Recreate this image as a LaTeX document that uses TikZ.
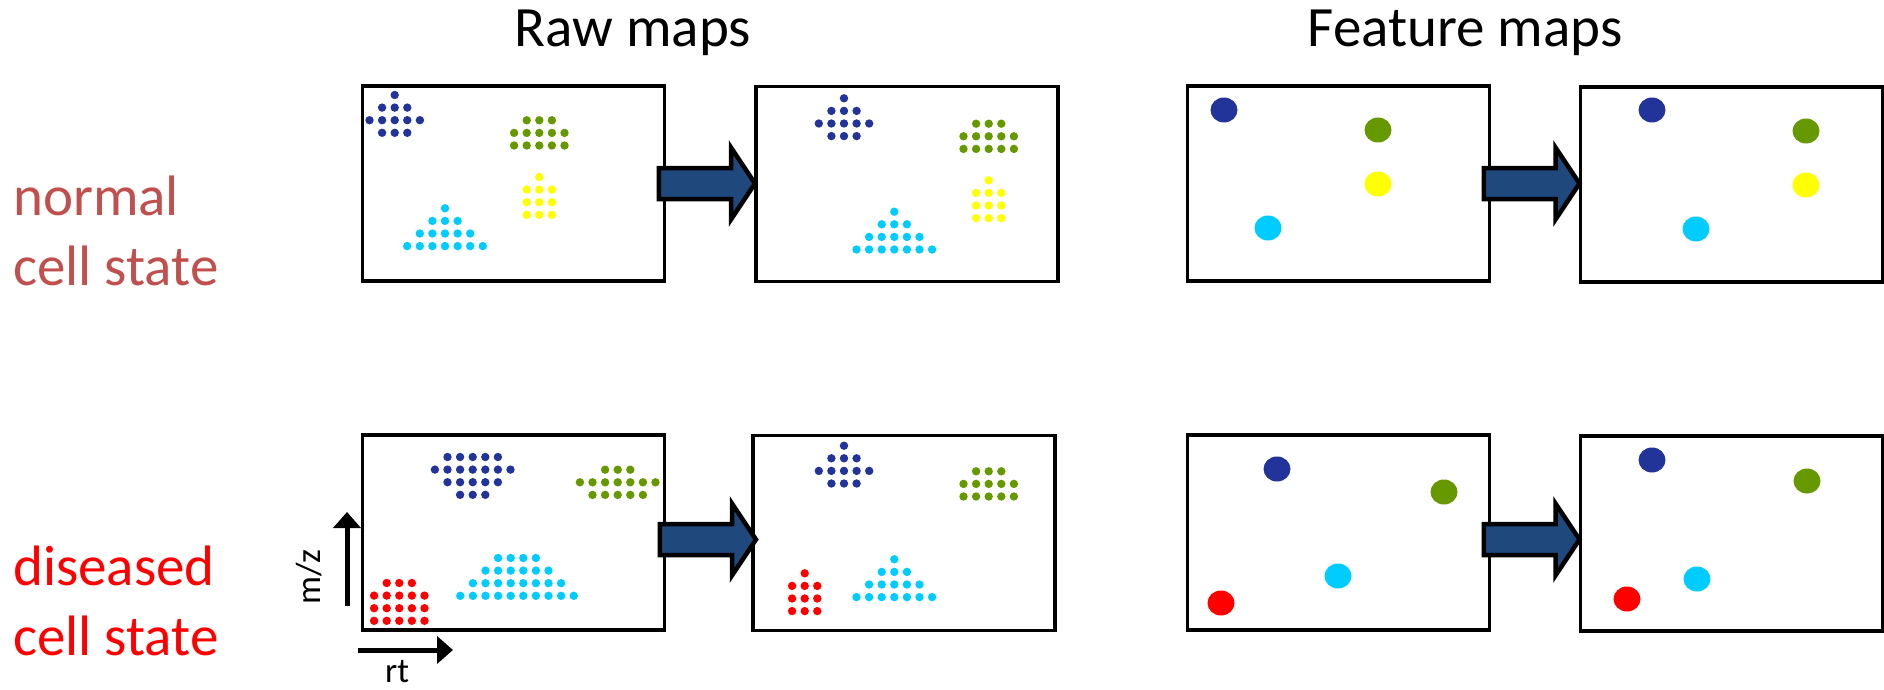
\documentclass[tikz,border=0pt]{standalone}
\usepackage{fontspec}
\setmainfont{Carlito}
\usetikzlibrary{calc,arrows.meta}
\definecolor{dblue}{RGB}{34,51,153}
\definecolor{dgreen}{RGB}{102,153,0}
\definecolor{dyellow}{RGB}{255,255,0}
\definecolor{dcyan}{RGB}{0,204,255}
\definecolor{dred}{RGB}{255,0,0}
\definecolor{arrowfill}{RGB}{31,73,125}
\definecolor{normalred}{RGB}{192,80,77}
\newcommand{\peak}[4]{%
  \foreach \n [count=\i from 0] in {#4} {
    \foreach \k in {1,...,\n} {
      \fill[#1] ({#2+(\k-(\n+1)/2)*12.6}, {#3+\i*12.6}) circle[radius=4.2pt];
    }
  }
}
\newcommand{\blockarrow}[2]{%
  \draw[barrow] ($(#1)+(0,-15.5)$) -- ($(#2)+(-24,-15.5)$) -- ($(#2)+(-24,-36)$) -- (#2)
    -- ($(#2)+(-24,36)$) -- ($(#2)+(-24,15.5)$) -- ($(#1)+(0,15.5)$) -- cycle;}
\newcommand{\spot}[3]{\fill[#1] (#2,#3) ellipse[x radius=13.5pt, y radius=12.5pt];}
\tikzset{
  mapbox/.style={draw=black, line width=3.3pt, minimum width=302pt, minimum height=195pt, inner sep=0pt, outer sep=0pt},
  barrow/.style={draw=black, line width=4.5pt, fill=arrowfill, line join=miter},
  title/.style={font=\fontsize{57}{68}\selectfont, inner sep=0pt, anchor=base},
  statelbl/.style={font=\fontsize{57}{70}\selectfont, inner sep=0pt, align=left, anchor=base west},
  axislbl/.style={font=\fontsize{35}{42}\selectfont, inner sep=0pt},
  axisarrow/.style={line width=5pt, -{Triangle[length=16pt, width=27pt]}}
}
\begin{document}
\begin{tikzpicture}[x=1pt, y=-1pt]
\useasboundingbox (0,0) rectangle (1884,690);
% titles
\node[title] (traw) at (633,47) {Raw maps};
\node[title] (tfeat) at (1465,47) {Feature maps};
% state labels (base anchor = baseline of the last line)
\node[statelbl, text=normalred] (lnorm) at (13,285) {normal\\cell state};
\node[statelbl, text=dred] (ldis) at (13,655) {diseased\\cell state};
% boxes
\node[mapbox] (r1) at (513.75,183.5) {};
\node[mapbox] (r2) at (907,184.2) {};
\node[mapbox] (f1) at (1338.75,183.5) {};
\node[mapbox] (f2) at (1731.5,184.5) {};
\node[mapbox] (r3) at (513.75,532.5) {};
\node[mapbox] (r4) at (904,533.3) {};
\node[mapbox] (f3) at (1338.75,532.5) {};
\node[mapbox] (f4) at (1731.5,533.5) {};
% block arrows
\coordinate (ta) at ($(r1.east)+(-6,0)$);
\path (r2.west |- ta) ++(-1,0) coordinate (ha);
\blockarrow{ta}{ha}
\coordinate (tb) at ($(f1.east)+(-6,0)$);
\path (f2.west |- tb) ++(-1,0) coordinate (hb);
\blockarrow{tb}{hb}
\coordinate (tc) at ($(r3.east)+(-5,7)$);
\path (r4.west |- tc) ++(3,0) coordinate (hc);
\blockarrow{tc}{hc}
\coordinate (td) at ($(f3.east)+(-6,7)$);
\path (f4.west |- td) ++(-1,0) coordinate (hd);
\blockarrow{td}{hd}
% raw map peaks, normal
\peak{dblue}{394.7}{95}{1,3,5,3}
\peak{dgreen}{539.3}{120.3}{3,5,5}
\peak{dyellow}{539.3}{177}{1,3,3,3}
\peak{dcyan}{445}{208.3}{1,3,5,7}
\peak{dblue}{844}{98.3}{1,3,5,3}
\peak{dgreen}{988.7}{123.7}{3,5,5}
\peak{dyellow}{988.7}{180.3}{1,3,3,3}
\peak{dcyan}{894.3}{211.7}{1,3,5,7}
% raw map peaks, diseased
\peak{dblue}{472.7}{457}{5,7,5,3}
\peak{dgreen}{617.7}{469.7}{3,7,5}
\peak{dcyan}{517}{558}{4,6,8,10}
\peak{dred}{399.3}{583}{3,5,5,5}
\peak{dblue}{844}{445.7}{1,3,5,3}
\peak{dgreen}{988.7}{471.3}{3,5,5}
\peak{dcyan}{894.3}{559.3}{1,3,5,7}
\peak{dred}{804.7}{573.3}{1,3,3,3}
% feature spots
\spot{dblue}{1224}{110}
\spot{dgreen}{1378}{130}
\spot{dyellow}{1378}{184}
\spot{dcyan}{1268}{228}
\spot{dblue}{1652}{110}
\spot{dgreen}{1806}{131}
\spot{dyellow}{1806}{185}
\spot{dcyan}{1696}{229}
\spot{dblue}{1277}{469}
\spot{dgreen}{1444}{492}
\spot{dcyan}{1338}{576}
\spot{dred}{1221}{603}
\spot{dblue}{1652}{460}
\spot{dgreen}{1807}{481}
\spot{dcyan}{1697}{579}
\spot{dred}{1627}{599}
% axes
\coordinate (mzs) at (347,606);
\coordinate (mze) at (347,512);
\draw[axisarrow] (mzs) -- (mze);
\coordinate (rts) at (358,650);
\coordinate (rte) at (453,650);
\draw[axisarrow] (rts) -- (rte);
\node[axislbl, rotate=90] (mz) at (309,577) {m/z};
\node[axislbl, anchor=base] (rt) at (397,682) {rt};
\end{tikzpicture}
\end{document}
